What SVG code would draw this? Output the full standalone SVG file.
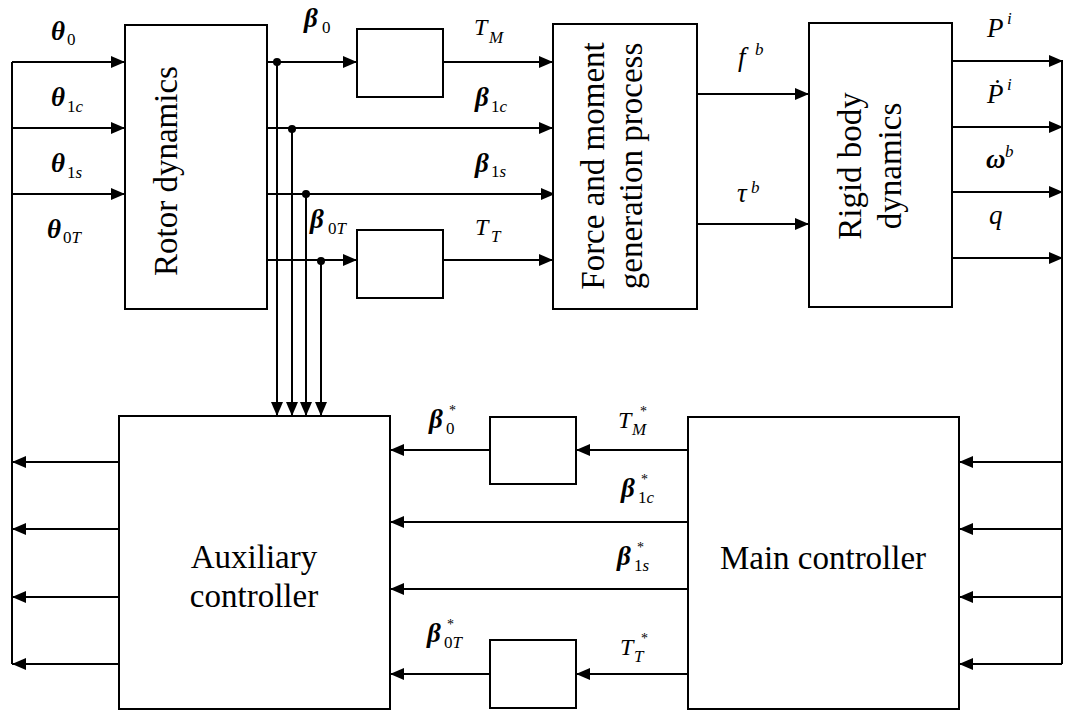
<svg xmlns="http://www.w3.org/2000/svg" width="1065" height="713" viewBox="0 0 1065 713" font-family="Liberation Serif, serif">
<defs>
<marker id="ah" markerWidth="14" markerHeight="12" refX="14" refY="6" orient="auto" markerUnits="userSpaceOnUse"><path d="M0,0 L14,6 L0,12 z" fill="#000"/></marker>
<style>
.box{fill:#fff;stroke:#000;stroke-width:2}
.ln{fill:none;stroke:#000;stroke-width:2}
.ar{fill:none;stroke:#000;stroke-width:2;marker-end:url(#ah)}
.big{font-size:33px;fill:#000}
.lb{font-style:italic;font-size:27px;fill:#000}
.gk{font-weight:bold}
.tt{font-size:24px}
.sb{font-size:17px;font-style:normal;font-weight:normal}
.st{font-size:14px;font-style:normal;font-weight:normal}
.it{font-style:italic}
</style>
</defs>
<rect width="1065" height="713" fill="#fff"/>
<g id="connectors">
<path class="ln" d="M12,664 V62"/>
<path class="ar" d="M12,62 H125"/>
<path class="ar" d="M12,128 H125"/>
<path class="ar" d="M12,194 H125"/>
<path class="ar" d="M119,462 H12"/>
<path class="ar" d="M119,529 H12"/>
<path class="ar" d="M119,597 H12"/>
<path class="ar" d="M119,664 H12"/>
<path class="ar" d="M267,62 H357"/>
<path class="ar" d="M443,62 H553"/>
<path class="ar" d="M267,128 H553"/>
<path class="ar" d="M267,194 H555"/>
<path class="ar" d="M267,260 H357"/>
<path class="ar" d="M443,260 H553"/>
<path class="ar" d="M277,62 V416"/>
<path class="ar" d="M292,128 V416"/>
<path class="ar" d="M306,194 V416"/>
<path class="ar" d="M321,260 V416"/>
<circle cx="277" cy="62" r="4"/>
<circle cx="292" cy="129" r="4"/>
<circle cx="306" cy="194" r="4"/>
<circle cx="321" cy="261" r="4"/>
<path class="ar" d="M697,94 H809"/>
<path class="ar" d="M697,224 H809"/>
<path class="ar" d="M952,61 H1063"/>
<path class="ar" d="M952,127 H1063"/>
<path class="ar" d="M952,192 H1063"/>
<path class="ar" d="M952,258 H1063"/>
<path class="ln" d="M1062,61 V664"/>
<path class="ar" d="M1062,462 H959"/>
<path class="ar" d="M1062,529 H959"/>
<path class="ar" d="M1062,597 H959"/>
<path class="ar" d="M1062,664 H959"/>
<path class="ar" d="M688,450 H576"/>
<path class="ar" d="M490,450 H390"/>
<path class="ar" d="M688,522 H390"/>
<path class="ar" d="M688,589 H390"/>
<path class="ar" d="M688,674 H576"/>
<path class="ar" d="M490,674 H390"/>
</g>
<g id="rotor"><rect class="box" x="125" y="25" width="142" height="284"/>
<text class="big" text-anchor="middle" transform="translate(177,171) rotate(-90)">Rotor dynamics</text></g>
<g id="blockTM"><rect class="box" x="357" y="29" width="86" height="68"/></g>
<g id="blockTT"><rect class="box" x="357" y="230" width="86" height="68"/></g>
<g id="force"><rect class="box" x="553" y="24" width="144" height="285"/>
<text class="big" text-anchor="middle" transform="translate(604,166) rotate(-90)">Force and moment</text>
<text class="big" text-anchor="middle" transform="translate(642,166) rotate(-90)">generation process</text></g>
<g id="rigid"><rect class="box" x="809" y="23" width="143" height="284"/>
<text class="big" text-anchor="middle" transform="translate(861,166) rotate(-90)">Rigid body</text>
<text class="big" text-anchor="middle" transform="translate(901,166) rotate(-90)">dynamics</text></g>
<g id="aux"><rect class="box" x="119" y="416" width="271" height="293"/>
<text class="big" text-anchor="middle" x="254" y="568">Auxiliary</text>
<text class="big" text-anchor="middle" x="254" y="607">controller</text></g>
<g id="blockTMstar"><rect class="box" x="490" y="417" width="86" height="67"/></g>
<g id="blockTTstar"><rect class="box" x="490" y="640" width="86" height="68"/></g>
<g id="main"><rect class="box" x="688" y="417" width="271" height="292"/>
<text class="big" text-anchor="middle" x="823" y="569">Main controller</text></g>
<g id="labels">
<text class="lb gk" x="51" y="40">θ<tspan class="sb" x="67" y="45">0</tspan></text>
<text class="lb gk" x="51" y="106">θ<tspan class="sb" x="67" y="112">1<tspan class="it">c</tspan></tspan></text>
<text class="lb gk" x="51" y="172">θ<tspan class="sb" x="67" y="178">1<tspan class="it">s</tspan></tspan></text>
<text class="lb gk" x="47" y="238">θ<tspan class="sb" x="63" y="243">0<tspan class="it">T</tspan></tspan></text>
<text class="lb gk" x="304" y="27">β<tspan class="sb" x="322" y="33">0</tspan></text>
<text class="lb tt" x="474" y="35">T<tspan class="sb it" x="489" y="43">M</tspan></text>
<text class="lb gk" x="475" y="106">β<tspan class="sb" x="491" y="112">1<tspan class="it">c</tspan></tspan></text>
<text class="lb gk" x="475" y="172">β<tspan class="sb" x="491" y="177">1<tspan class="it">s</tspan></tspan></text>
<text class="lb gk" x="310" y="228">β<tspan class="sb" x="328" y="234">0<tspan class="it">T</tspan></tspan></text>
<text class="lb tt" x="475" y="235">T<tspan class="sb it" x="491" y="242">T</tspan></text>
<text class="lb" x="738" y="66">f<tspan class="sb it" x="755" y="55">b</tspan></text>
<text class="lb" x="737" y="202">τ<tspan class="sb it" x="751" y="193">b</tspan></text>
<text class="lb" x="987" y="37">P<tspan class="sb it" x="1007" y="24">i</tspan></text>
<text class="lb" x="987" y="103">Ṗ<tspan class="sb it" x="1007" y="90">i</tspan></text>
<text class="lb gk" x="986" y="168">ω<tspan class="sb it" x="1005" y="157">b</tspan></text>
<text class="lb" x="989" y="224">q</text>
<text class="lb gk" x="429" y="428">β<tspan class="sb" x="446" y="434">0</tspan><tspan class="st" x="449" y="415">*</tspan></text>
<text class="lb tt" x="618" y="428">T<tspan class="sb it" x="632" y="435">M</tspan><tspan class="st" x="640" y="416">*</tspan></text>
<text class="lb gk" x="621" y="497">β<tspan class="sb" x="638" y="503">1<tspan class="it">c</tspan></tspan><tspan class="st" x="641" y="484">*</tspan></text>
<text class="lb gk" x="617" y="565">β<tspan class="sb" x="634" y="571">1<tspan class="it">s</tspan></tspan><tspan class="st" x="637" y="552">*</tspan></text>
<text class="lb gk" x="427" y="642">β<tspan class="sb" x="444" y="648">0<tspan class="it">T</tspan></tspan><tspan class="st" x="447" y="629">*</tspan></text>
<text class="lb tt" x="620" y="655">T<tspan class="sb it" x="634" y="662">T</tspan><tspan class="st" x="641" y="643">*</tspan></text>
</g>
</svg>
